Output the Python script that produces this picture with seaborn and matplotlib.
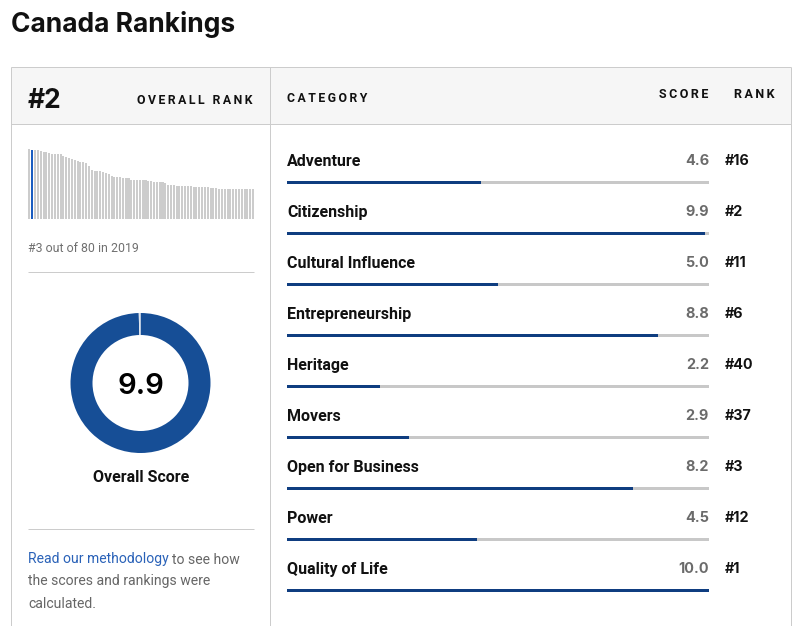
import numpy as np
import pandas as pd
import matplotlib.pyplot as plt
import seaborn as sns

sns.set_theme(style="white")
plt.rcParams['font.family'] = ['Roboto', 'DejaVu Sans']

categories = ["Adventure", "Citizenship", "Cultural Influence", "Entrepreneurship", "Heritage",
              "Movers", "Open for Business", "Power", "Quality of Life"]
scores = [4.6, 9.9, 5.0, 8.8, 2.2, 2.9, 8.2, 4.5, 10.0]
score_labels = ["4.6", "9.9", "5.0", "8.8", "2.2", "2.9", "8.2", "4.5", "10.0"]
ranks = ["#16", "#2", "#11", "#6", "#40", "#37", "#3", "#12", "#1"]

# overall score of every country, ordered by rank
overall_scores = [10.0, 9.9, 9.9, 9.8, 9.7, 9.6, 9.6, 9.4, 9.3, 9.3,
                  9.3, 9.3, 9.0, 8.9, 8.7, 8.6, 8.4, 8.3, 8.1, 8.1,
                  8.0, 7.6, 7.0, 6.9, 6.9, 6.9, 6.7, 6.6, 6.4, 6.1,
                  6.0, 6.0, 6.0, 5.9, 5.9, 5.9, 5.6, 5.6, 5.6, 5.6,
                  5.6, 5.6, 5.4, 5.4, 5.3, 5.3, 5.3, 5.3, 5.1, 4.9,
                  4.9, 4.9, 4.7, 4.7, 4.7, 4.7, 4.7, 4.7, 4.6, 4.6,
                  4.6, 4.6, 4.6, 4.6, 4.4, 4.4, 4.4, 4.3, 4.3, 4.3,
                  4.3, 4.3, 4.3, 4.3, 4.3, 4.3, 4.3, 4.3, 4.3, 4.3]
current_rank = 2
donut_values = [9.96, 0.04]

W, H = 801, 626
LINE = "#cccccc"
NAVY = "#0f3d80"
BLUE = "#164e96"
TITLE_FONT = "Inter"


def add_axes_px(x0, y0, x1, y1):
    return fig.add_axes([x0 / W, 1 - y1 / H, (x1 - x0) / W, (y1 - y0) / H])


def spaced(s):
    return "\u2009".join(s)


fig = plt.figure(figsize=(W / 100, H / 100), dpi=100, facecolor="white")

# page frame in pixel coords
frame = fig.add_axes([0, 0, 1, 1])
frame.set_xlim(0, W)
frame.set_ylim(H, 0)
frame.axis("off")
frame.fill_between([11, 791], 67, 124, color="#f6f6f6", lw=0)
for xs, ys in [([11, 791], [67, 67]), ([11, 791], [124, 124]),
               ([11, 11], [67, H]), ([270, 270], [67, H]), ([791, 791], [67, H]),
               ([28, 254], [272, 272]), ([28, 254], [529, 529])]:
    frame.plot(xs, ys, color=LINE, lw=0.72, solid_capstyle="butt")

frame.text(11, 24, "Canada Rankings", family=TITLE_FONT, weight="bold", fontsize=19, color="#111111", va="center")
frame.text(28, 101.5, "#2", family=TITLE_FONT, weight="bold", fontsize=19, color="#111111", va="center")
frame.text(252.5, 101, spaced("OVERALL RANK"), weight="bold", fontsize=8.85, color="#111111", ha="right", va="center")
frame.text(287, 98, spaced("CATEGORY"), weight="bold", fontsize=8.85, color="#111111", va="center")
frame.text(708, 95, spaced("SCORE"), weight="bold", fontsize=9, color="#111111", ha="right", va="center")
frame.text(774, 95, spaced("RANK"), weight="bold", fontsize=9, color="#111111", ha="right", va="center")
frame.text(28, 248.5, "#3 out of 80 in 2019", fontsize=8.9, color="#707070", va="center")
frame.text(141, 477.5, "Overall Score", weight="bold", fontsize=11.5, color="#111111", ha="center", va="center")
frame.text(28, 559.5, "Read our methodology", fontsize=10.1, color="#2a62b8", va="center")
frame.text(172, 559.5, "to see how", fontsize=10.1, color="#666666", va="center")
frame.text(28, 581, "the scores and rankings were", fontsize=10.1, color="#666666", va="center")
frame.text(28, 603.5, "calculated.", fontsize=10.1, color="#666666", va="center")

# small ranking strip
strip = add_axes_px(28, 149, 254.5, 219)
strip_df = pd.DataFrame({"rank": np.arange(1, len(overall_scores) + 1), "score": overall_scores})
strip_df["current"] = strip_df["rank"] == current_rank
sns.barplot(data=strip_df, x="rank", y="score", hue="current", dodge=False, legend=False,
            palette={False: "#cccccc", True: "#1a5cc0"}, width=0.72, linewidth=0, saturation=1, ax=strip)
strip.set_ylim(0, 10)
strip.set_xlim(-0.5, len(overall_scores) - 0.5)
strip.axis("off")

# donut
donut = add_axes_px(70.5, 313, 210.5, 453)
donut.pie(donut_values, colors=[BLUE, "#dfe5ee"], startangle=90, counterclock=False, radius=1.0,
          wedgeprops={"width": 22 / 70, "linewidth": 0})
donut.set_xlim(-1, 1)
donut.set_ylim(-1, 1)
donut.text(0, -0.045, "9.9", family=TITLE_FONT, weight="semibold", fontsize=21, color="black", ha="center", va="center")

# category bars
bars = add_axes_px(287, 157, 709, 616)
bar_df = pd.DataFrame({"category": categories, "score": scores, "full": 10.0})
sns.barplot(data=bar_df, y="category", x="full", color="#c8c8c8", saturation=1, width=0.065, linewidth=0, ax=bars)
sns.barplot(data=bar_df, y="category", x="score", color=NAVY, saturation=1, width=0.065, linewidth=0, ax=bars)
bars.set_xlim(0, 10)
bars.set_ylim(len(categories) - 0.5, -0.5)
bars.axis("off")
for i, cat in enumerate(categories):
    bars.text(0, i - 0.41, cat, weight="bold", fontsize=11.5, color="#111111", va="center", clip_on=False)
    bars.text(10, i - 0.43, score_labels[i], family=TITLE_FONT, weight="bold", fontsize=10.4, color="#6b6b6b",
              ha="right", va="center", clip_on=False)
    bars.text(10.38, i - 0.43, ranks[i], family=TITLE_FONT, weight="bold", fontsize=10.3, color="#111111",
              va="center", clip_on=False)

fig.savefig("out.png", dpi=100)
